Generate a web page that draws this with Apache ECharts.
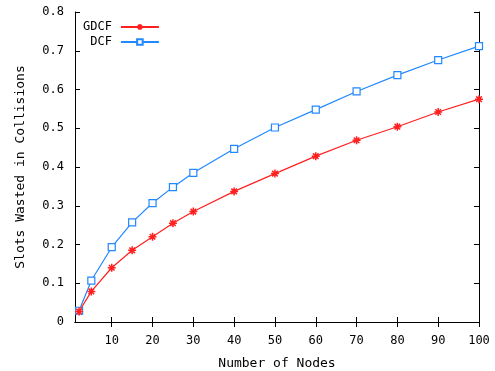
<!DOCTYPE html>
<html>
<head>
<meta charset="utf-8">
<script src="https://cdn.jsdelivr.net/npm/echarts@6/dist/echarts.min.js"></script>
<style>
  html, body { margin: 0; padding: 0; background: #fff; }
  #chart { width: 495px; height: 371px; }
</style>
</head>
<body>
<div id="chart"></div>
<script>
// number of nodes (x) and slots wasted in collisions (y)
const nodes = [2, 5, 10, 15, 20, 25, 30, 40, 50, 60, 70, 80, 90, 100];
const gdcf = [0.027, 0.079, 0.140, 0.185, 0.220, 0.255, 0.285, 0.337, 0.383, 0.428, 0.469, 0.504, 0.542, 0.575];
const dcf = [0.029, 0.107, 0.193, 0.257, 0.307, 0.348, 0.385, 0.447, 0.502, 0.548, 0.595, 0.637, 0.676, 0.712];
const xTicks = [10, 20, 30, 40, 50, 60, 70, 80, 90, 100];

const font = "DejaVu Sans Mono";
const starPath = "path://M0,-1L0,1M-1,0L1,0M-0.7,-0.7L0.7,0.7M-0.7,0.7L0.7,-0.7";
const red = "#ff2020";
const blue = "#2288ff";

const chart = echarts.init(document.getElementById("chart"));

const pairs = (ys) => nodes.map((x, i) => [x, ys[i]]);

const axisLine = { show: true, lineStyle: { color: "#000", width: 1 } };

chart.setOption({
  animation: false,
  backgroundColor: "#fff",
  textStyle: { fontFamily: font },
  grid: { left: 75, right: 16, top: 12, bottom: 49, outerBoundsMode: "none", containLabel: false },
  legend: {
    orient: "vertical",
    left: 78,
    top: 16,
    align: "right",
    itemWidth: 38,
    itemHeight: 7,
    itemGap: 3,
    textStyle: { fontFamily: font, fontSize: 12, color: "#000", padding: [0, 4, 0, 0] },
    data: ["GDCF", "DCF"],
  },
  xAxis: [
    {
      type: "value",
      min: 1,
      max: 100,
      name: "Number of Nodes",
      nameLocation: "middle",
      nameGap: 35,
      nameTextStyle: { fontFamily: font, fontSize: 13, color: "#000" },
      axisLine: axisLine,
      axisTick: { show: true, inside: true, length: 5, customValues: xTicks, lineStyle: { color: "#000" } },
      axisLabel: { customValues: xTicks, fontFamily: font, fontSize: 12, color: "#000", margin: 13 },
      splitLine: { show: false },
    },
    {
      type: "value",
      position: "top",
      min: 1,
      max: 100,
      axisLine: axisLine,
      axisTick: { show: true, inside: true, length: 5, customValues: xTicks, lineStyle: { color: "#000" } },
      axisLabel: { show: false },
      splitLine: { show: false },
    },
  ],
  yAxis: [
    {
      type: "value",
      min: 0,
      max: 0.8,
      interval: 0.1,
      name: "Slots Wasted in Collisions",
      nameLocation: "middle",
      nameGap: 48,
      nameTextStyle: { fontFamily: font, fontSize: 13, color: "#000" },
      axisLine: axisLine,
      axisTick: { show: true, inside: true, length: 5, lineStyle: { color: "#000" } },
      axisLabel: {
        fontFamily: font,
        fontSize: 12,
        color: "#000",
        margin: 11,
        formatter: (v) => (v === 0 ? "0" : v.toFixed(1)),
      },
      splitLine: { show: false },
    },
    {
      type: "value",
      position: "right",
      min: 0,
      max: 0.8,
      interval: 0.1,
      axisLine: axisLine,
      axisTick: { show: true, inside: true, length: 5, lineStyle: { color: "#000" } },
      axisLabel: { show: false },
      splitLine: { show: false },
    },
  ],
  series: [
    {
      name: "GDCF",
      type: "line",
      data: pairs(gdcf),
      color: red,
      symbol: starPath,
      symbolSize: 8,
      symbolKeepAspect: true,
      showAllSymbol: true,
      lineStyle: { width: 1.2, color: red },
      itemStyle: { color: red, borderColor: red, borderWidth: 1.5 },
      z: 3,
    },
    {
      name: "DCF",
      type: "line",
      data: pairs(dcf),
      color: blue,
      symbol: "rect",
      symbolSize: 7,
      showAllSymbol: true,
      lineStyle: { width: 1.2, color: blue },
      itemStyle: { color: "#fff", borderColor: blue, borderWidth: 1.2 },
      z: 2,
    },
  ],
});
</script>
</body>
</html>
